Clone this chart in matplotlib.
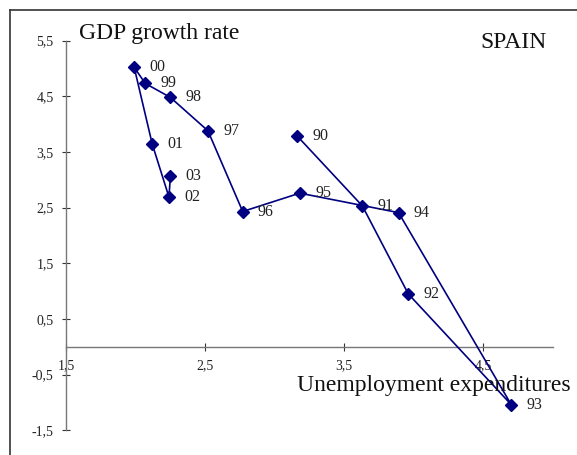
import matplotlib
matplotlib.use("Agg")
import matplotlib.pyplot as plt
from matplotlib.lines import Line2D

# Data (chronological order 1990 -> 2003)
years = ["90", "91", "92", "93", "94", "95", "96", "97", "98", "99", "00", "01", "02", "03"]
unemp_exp = [3.16, 3.63, 3.96, 4.70, 3.89, 3.18, 2.77, 2.52, 2.25, 2.07, 1.99, 2.12, 2.24, 2.25]
gdp_growth = [3.79, 2.53, 0.95, -1.04, 2.41, 2.76, 2.43, 3.88, 4.48, 4.73, 5.02, 3.64, 2.69, 3.06]

x_ticks = [1.5, 2.5, 3.5, 4.5]
x_tick_labels = ["1,5", "2,5", "3,5", "4,5"]
y_ticks = [-1.5, -0.5, 0.5, 1.5, 2.5, 3.5, 4.5, 5.5]
y_tick_labels = ["-1,5", "-0,5", "0,5", "1,5", "2,5", "3,5", "4,5", "5,5"]

W, H = 577, 455
fig = plt.figure(figsize=(W / 100, H / 100), dpi=100)
serif = ["Liberation Serif", "DejaVu Serif"]

left_px, right_px = 66, 553
top_px, bottom_px = 40.6, 430.3
ax = fig.add_axes([left_px / W, 1 - bottom_px / H,
                   (right_px - left_px) / W, (bottom_px - top_px) / H])
ax.set_xlim(1.5, 5.0)
ax.set_ylim(-1.5, 5.5)

navy = "#000080"
ax.plot(unemp_exp, gdp_growth, color=navy, lw=1.2, marker="D",
        markersize=6.5, markerfacecolor=navy, markeredgecolor=navy,
        clip_on=False, zorder=3)

for xv, yv, lab in zip(unemp_exp, gdp_growth, years):
    ax.annotate(lab, (xv, yv), xytext=(11, 0), textcoords="offset points",
                ha="left", va="center", fontsize=11.5, family=serif,
                color="#222222")

# Spines
for s in ["top", "right"]:
    ax.spines[s].set_visible(False)
ax.spines["bottom"].set_position(("data", 0))
ax.spines["left"].set_position(("data", 1.5))
for s in ["bottom", "left"]:
    ax.spines[s].set_color("#777777")
    ax.spines[s].set_linewidth(1.0)

ax.set_xticks(x_ticks)
ax.set_xticklabels(x_tick_labels, family=serif, fontsize=10)
ax.set_yticks(y_ticks)
ax.set_yticklabels(y_tick_labels, family=serif, fontsize=10)
ax.tick_params(axis="both", direction="inout", length=6, width=0.8,
               color="#333333", labelcolor="#222222")
ax.tick_params(axis="x", pad=6)
ax.tick_params(axis="y", pad=6)
ax.patch.set_alpha(0)

# Titles / axis captions
fig.text(79 / W, 1 - 33 / H, "GDP growth rate", family=serif, fontsize=17,
         ha="left", va="center", color="#111111")
fig.text(480 / W, 1 - 43 / H, "SPAIN", family=serif, fontsize=17,
         ha="left", va="center", color="#111111")
fig.text(297 / W, 1 - 386 / H, "Unemployment expenditures", family=serif,
         fontsize=17, ha="left", va="center", color="#111111")

# Outer frame (cropped at right and bottom)
fig.add_artist(Line2D([10 / W, 1.0], [1 - 10 / H, 1 - 10 / H],
                      transform=fig.transFigure, color="#333333", lw=1.2))
fig.add_artist(Line2D([10 / W, 10 / W], [1 - 10 / H, 0.0],
                      transform=fig.transFigure, color="#333333", lw=1.2))

fig.savefig("out.png", dpi=100, facecolor="white")
